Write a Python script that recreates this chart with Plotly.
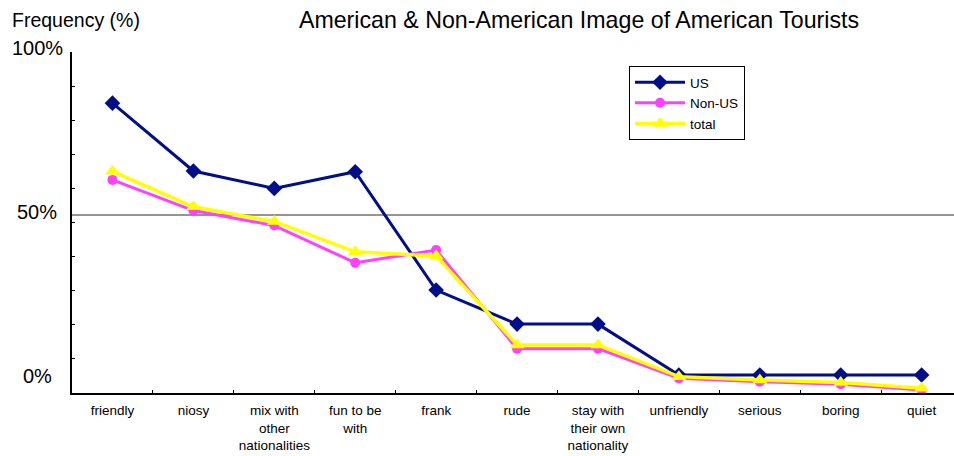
import plotly.graph_objects as go

categories = ["friendly", "niosy", "mix with<br>other<br>nationalities", "fun to be<br>with", "frank",
              "rude", "stay with<br>their own<br>nationality", "unfriendly", "serious", "boring", "quiet"]
us = [85.0, 65.1, 60.0, 64.9, 30.2, 20.2, 20.2, 5.3, 5.3, 5.3, 5.3]
non_us = [62.5, 53.5, 49.1, 38.2, 41.9, 13.0, 13.0, 4.3, 3.3, 2.6, 0.9]
total = [65.0, 54.6, 50.3, 41.4, 40.2, 14.1, 14.1, 4.8, 3.8, 3.1, 1.4]

y_labels = ["0%", "50%", "100%"]
y_label_pos = [5.0, 53.0, 101.3]
ref_line = 52.2

FONT = "Liberation Sans, Arial, sans-serif"

fig = go.Figure()
fig.add_trace(go.Scatter(x=categories, y=us, name="US", mode="lines+markers",
                         line=dict(color="#000E8A", width=3),
                         marker=dict(symbol="diamond", size=12, color="#000E8A")))
fig.add_trace(go.Scatter(x=categories, y=non_us, name="Non-US", mode="lines+markers",
                         line=dict(color="#FF40FF", width=3),
                         marker=dict(symbol="circle", size=10, color="#FF40FF")))
fig.add_trace(go.Scatter(x=categories, y=total, name="total", mode="lines+markers",
                         line=dict(color="#FFFF00", width=3.5),
                         marker=dict(symbol="triangle-up", size=13, color="#FFFF00")))

fig.add_shape(type="line", xref="paper", yref="y", x0=0, x1=1, y0=ref_line, y1=ref_line,
              line=dict(color="#707070", width=1.5), layer="below")

for lab, pos in zip(y_labels, y_label_pos):
    fig.add_annotation(text=lab, xref="paper", yref="paper", x=(37 - 72) / 882, y=pos / 100,
                       xanchor="center", yanchor="middle", showarrow=False,
                       font=dict(family=FONT, size=20, color="black"))

fig.add_annotation(text="Frequency (%)", xref="paper", yref="paper", x=(10 - 72) / 882,
                   y=(393 - 20) / 341, xanchor="left", yanchor="middle", showarrow=False,
                   font=dict(family=FONT, size=19.5, color="black"))

fig.update_layout(
    width=954, height=456,
    margin=dict(l=72, r=0, t=52, b=63),
    paper_bgcolor="white", plot_bgcolor="white",
    font=dict(family=FONT, color="black", size=13.5),
    title=dict(text="American & Non-American Image of American Tourists",
               x=579 / 954, xanchor="center", y=1 - 20 / 456, yanchor="middle",
               font=dict(family=FONT, size=23.2, color="black")),
    showlegend=True,
    legend=dict(x=(629 - 72) / 882, y=(393 - 66) / 341, xanchor="left", yanchor="top",
                bgcolor="white", bordercolor="black", borderwidth=1,
                font=dict(family=FONT, size=13.5, color="black"),
                tracegroupgap=0, itemwidth=50),
)
fig.update_xaxes(type="category", categoryarray=categories, range=[-0.5, 10.4],
                 showline=True, linecolor="black", linewidth=1.5, showgrid=False,
                 zeroline=False, ticks="inside", ticklen=3, tickcolor="black",
                 tickson="boundaries", ticklabelstandoff=4,
                 tickfont=dict(family=FONT, size=13.5, color="black"))
fig.update_yaxes(range=[0, 100], dtick=10, showline=True, linecolor="black", linewidth=1.5,
                 showgrid=False, zeroline=False, ticks="inside", ticklen=3,
                 tickcolor="black", showticklabels=False)

fig.write_html("out.html")
